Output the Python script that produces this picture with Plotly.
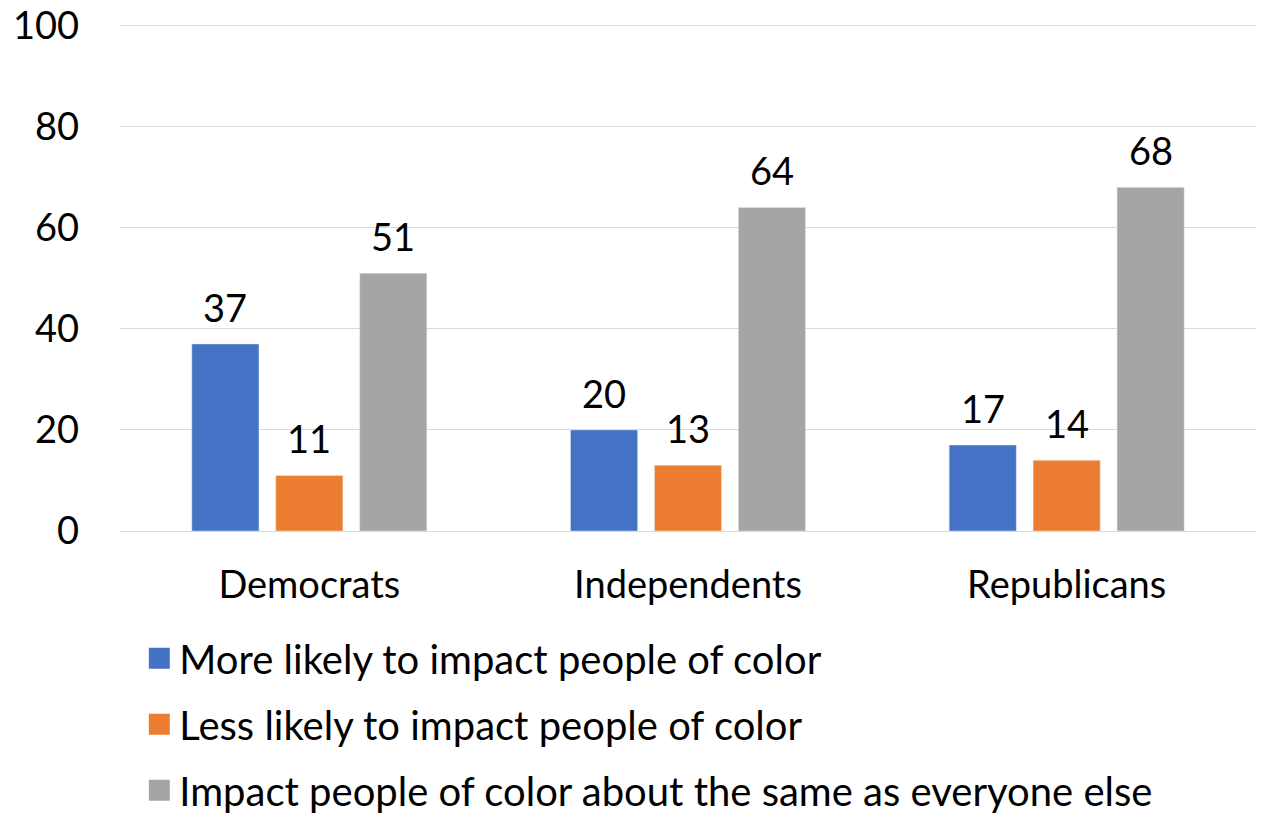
import plotly.graph_objects as go

categories = ["Democrats", "Independents", "Republicans"]
more_likely = [37, 20, 17]
less_likely = [11, 13, 14]
about_same = [51, 64, 68]
series_names = [
    "More likely to impact people of color",
    "Less likely to impact people of color",
    "Impact people of color about the same as everyone else",
]
colors = ["#4472C4", "#ED7D31", "#A5A5A5"]

FONT = "Lato, Calibri, Carlito, sans-serif"
FS = 38
W, H = 1256, 807
ML, MR = 112, 8
BARGAP = 0.335
series = [more_likely, less_likely, about_same]

fig = go.Figure()
for i, (name, vals, col) in enumerate(zip(series_names, series, colors)):
    fig.add_trace(go.Bar(
        x=categories, y=vals, name=name, marker_color=col,
        showlegend=False,
    ))
# legend entries with larger square swatches
for i, (name, col) in enumerate(zip(series_names, colors)):
    fig.add_trace(go.Scatter(
        x=[None], y=[None], mode="markers", name=name,
        marker=dict(symbol="square", size=16, color=col, line=dict(color=col, width=5)),
        legendgroup=f"g{i}", showlegend=True,
    ))

# data labels (positioned from the data values, offset per series slot)
slot_px = (W - ML - MR) / len(categories) * (1 - BARGAP) / len(series)
for i, vals in enumerate(series):
    for cat, v in zip(categories, vals):
        fig.add_annotation(
            x=cat, y=v, text=str(v), showarrow=False, yanchor="bottom",
            xshift=(i - (len(series) - 1) / 2) * slot_px, yshift=12,
            font=dict(size=FS, color="#000000", family=FONT),
        )

fig.update_layout(
    width=W, height=H,
    paper_bgcolor="white", plot_bgcolor="white",
    margin=dict(l=ML, r=MR, t=16, b=284, autoexpand=False),
    barmode="group", bargap=BARGAP, bargroupgap=0.2,
    font=dict(family=FONT, size=FS, color="#000000"),
    yaxis=dict(range=[0, 100.3], tickvals=[0, 20, 40, 60, 80, 100],
               gridcolor="#D9D9D9", gridwidth=1, ticklabeloverflow="allow",
               zeroline=False, showline=False, ticks="", ticklabelstandoff=40,
               tickfont=dict(size=FS, color="#000000"), automargin=False),
    xaxis=dict(showline=True, linecolor="#D9D9D9", linewidth=1, ticks="",
               ticklabelstandoff=20,
               tickfont=dict(size=FS, color="#000000"), automargin=False),
    legend=dict(orientation="v", x=0.017, xanchor="left", y=-0.187, yanchor="top",
                font=dict(size=40, color="#000000", family=FONT),
                tracegroupgap=11, itemsizing="trace", bgcolor="rgba(0,0,0,0)"),
)
fig.write_html("out.html")
